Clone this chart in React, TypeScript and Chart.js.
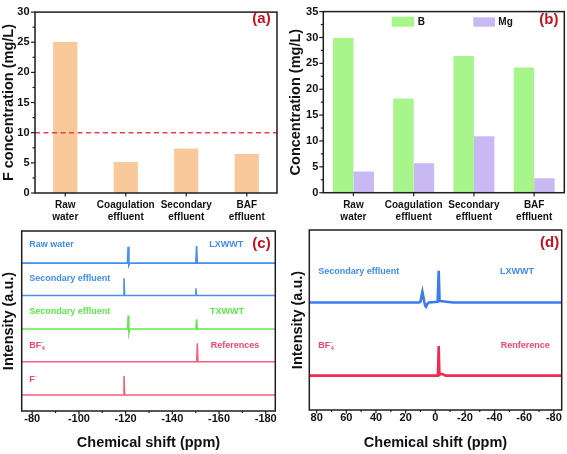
import React, { useEffect, useRef } from 'react';
import { Chart, registerables } from 'chart.js';
Chart.register(...registerables);

const FONT = "'Liberation Sans', Arial, Helvetica, sans-serif";
const DARKRED = '#c0141e';
const BLUE = '#3f8cf0';
const GREEN = '#5fe64c';
const PINK = '#f0466e';

// ---------- (a) ----------
const categories = [['Raw', 'water'], ['Coagulation', 'effluent'], ['Secondary', 'effluent'], ['BAF', 'effluent']];
const fConcentration = [25.05, 5.13, 7.38, 6.47];
const fLimit = 10;
const aYMajor = [0, 5, 10, 15, 20, 25, 30];
const aYMinor = [2.5, 7.5, 12.5, 17.5, 22.5, 27.5];

// ---------- (b) ----------
const boronValues = [29.9, 18.2, 26.4, 24.2];
const magnesiumValues = [4.1, 5.7, 10.9, 2.8];
const bYMajor = [0, 5, 10, 15, 20, 25, 30, 35];
const bYMinor = [2.5, 7.5, 12.5, 17.5, 22.5, 27.5, 32.5];

// ---------- (c) 19F NMR, ppm vs intensity ----------
const cXMajor = [-80, -100, -120, -140, -160, -180];
const cXMinor = [-90, -110, -130, -150, -170];
const cRawWater = [[-75.5, 0], [-120.8, 0], [-121.1, 9.2], [-121.4, -1.0], [-121.7, 0], [-150.1, 0], [-150.4, 9.6], [-150.7, 0], [-184.1, 0]];
const cSecondaryLX = [[-75.5, 0], [-119.0, 0], [-119.3, 9.7], [-119.6, 0], [-149.8, 0], [-150.1, 4.1], [-150.4, 0], [-184.1, 0]];
const cSecondaryTX = [[-75.5, 0], [-120.8, 0], [-121.1, 7.4], [-121.4, -2.4], [-121.8, 0], [-150.1, 0], [-150.4, 5.4], [-150.7, 0], [-184.1, 0]];
const cBF4 = [[-75.5, 0], [-150.4, 0], [-150.7, 10.2], [-151.0, 0], [-184.1, 0]];
const cFluoride = [[-75.5, 0], [-119.0, 0], [-119.3, 10.6], [-119.6, 0], [-184.1, 0]];
const cOffsets = [82.1, 64.1, 45.6, 27.4, 8.9];

// ---------- (d) 11B NMR ----------
const dXMajor = [80, 60, 40, 20, 0, -20, -40, -60, -80];
const dXMinor = [70, 50, 30, 10, -10, -30, -50, -70];
const dSecondary = [[85, 0], [11, 0], [10, 0.5], [9.3, 3.5], [8.7, 6.0], [8.1, 3.5], [7.4, 0.3], [6.8, -1.8], [6.2, -2.3], [5.4, -0.8], [4.4, 0], [-1.6, 0.4], [-2.3, 17.6], [-2.9, 0.9], [-6, 0.6], [-12, 0], [-85.3, 0]];
const dBF4 = [[85, 0], [-1.8, 0], [-2.3, 16.5], [-2.8, 0.5], [-4.5, 1.0], [-7, 0], [-85.3, 0]];
const dOffsets = [59.7, 19.1];

type TextItem = { t: string; x: number; y: number; c: string; s?: number; sup?: string; sub?: string };
type DecoCfg = {
  yMajor?: number[]; yMinor?: number[];
  xMajor?: number[]; xMinor?: number[];
  catTicks?: boolean;
  hLine?: number;
  texts?: TextItem[];
  boxes?: { x: number; y: number; w: number; h: number; c: string }[];
};

function deco(cfg: DecoCfg) {
  return {
    id: 'deco',
    afterDraw(chart: any) {
      const { ctx, chartArea: a, scales } = chart;
      const xs = scales.x, ys = scales.y;
      ctx.save();
      if (cfg.hLine !== undefined) {
        const py = ys.getPixelForValue(cfg.hLine);
        ctx.strokeStyle = '#f03c4c';
        ctx.lineWidth = 1.5;
        ctx.setLineDash([5, 3.5]);
        ctx.beginPath(); ctx.moveTo(a.left, py); ctx.lineTo(a.right, py); ctx.stroke();
        ctx.setLineDash([]);
      }
      ctx.strokeStyle = '#1e1e1e';
      ctx.lineWidth = 1.5;
      ctx.strokeRect(a.left, a.top, a.right - a.left, a.bottom - a.top);
      ctx.lineWidth = 1.2;
      const tick = (px: number, py: number, dx: number, dy: number) => {
        ctx.beginPath(); ctx.moveTo(px, py); ctx.lineTo(px + dx, py + dy); ctx.stroke();
      };
      (cfg.yMajor || []).forEach(v => tick(a.left, ys.getPixelForValue(v), -4, 0));
      (cfg.yMinor || []).forEach(v => tick(a.left, ys.getPixelForValue(v), -2.5, 0));
      (cfg.xMajor || []).forEach(v => tick(xs.getPixelForValue(v), a.bottom, 0, 3.5));
      (cfg.xMinor || []).forEach(v => tick(xs.getPixelForValue(v), a.bottom, 0, 2));
      if (cfg.catTicks) {
        xs.ticks.forEach((_: any, i: number) => tick(xs.getPixelForTick(i), a.bottom, 0, 3.5));
      }
      (cfg.boxes || []).forEach(b => { ctx.fillStyle = b.c; ctx.fillRect(b.x, b.y, b.w, b.h); });
      ctx.textBaseline = 'middle';
      ctx.textAlign = 'left';
      (cfg.texts || []).forEach(ti => {
        const s = ti.s || 9;
        ctx.fillStyle = ti.c;
        ctx.font = `bold ${s}px ${FONT}`;
        ctx.fillText(ti.t, ti.x, ti.y);
        const w = ctx.measureText(ti.t).width;
        ctx.font = `bold ${s * 0.62}px ${FONT}`;
        if (ti.sup) ctx.fillText(ti.sup, ti.x + w + 0.5, ti.y - 3.5);
        if (ti.sub) ctx.fillText(ti.sub, ti.x + w + 0.5, ti.y + 3);
      });
      ctx.restore();
    },
  };
}

const tickFont = { family: FONT, size: 11, weight: 'bold' as const };
const catFont = { family: FONT, size: 10, weight: 'bold' as const };
const titleFont = { family: FONT, size: 14.5, weight: 'bold' as const };

function barConfigA(): any {
  return {
    type: 'bar',
    data: {
      labels: categories,
      datasets: [{ data: fConcentration, backgroundColor: '#f9c89b', barPercentage: 0.4, categoryPercentage: 1 }],
    },
    options: {
      responsive: false, animation: false, devicePixelRatio: 1,
      layout: { padding: { left: 0, top: 6, right: 8, bottom: 0 } },
      plugins: { legend: { display: false }, tooltip: { enabled: false } },
      scales: {
        x: {
          grid: { display: false, drawTicks: false }, border: { display: false },
          ticks: { font: catFont, color: '#111', padding: 6.2, maxRotation: 0, autoSkip: false },
          afterFit: (s: any) => { s.height = 35; },
        },
        y: {
          min: 0, max: 30,
          grid: { display: false, drawTicks: false }, border: { display: false },
          ticks: { font: tickFont, color: '#111', padding: 5.5, stepSize: 5 },
          title: { display: true, text: 'F concentration (mg/L)', font: titleFont, color: '#111', padding: { top: 0, bottom: 0 } },
          afterFit: (s: any) => { s.width = 35; },
        },
      },
    },
    plugins: [deco({
      yMajor: aYMajor, yMinor: aYMinor, catTicks: true, hLine: fLimit,
      texts: [{ t: '(a)', x: 252.3, y: 19, c: DARKRED, s: 15 }],
    })],
  };
}

function barConfigB(): any {
  return {
    type: 'bar',
    data: {
      labels: categories,
      datasets: [
        { label: 'B', data: boronValues, backgroundColor: '#a8f58c', barPercentage: 1, categoryPercentage: 0.68 },
        { label: 'Mg', data: magnesiumValues, backgroundColor: '#c8b9f5', barPercentage: 1, categoryPercentage: 0.68 },
      ],
    },
    options: {
      responsive: false, animation: false, devicePixelRatio: 1,
      layout: { padding: { left: 0, top: 6, right: 2.7, bottom: 0 } },
      plugins: { legend: { display: false }, tooltip: { enabled: false } },
      scales: {
        x: {
          grid: { display: false, drawTicks: false }, border: { display: false },
          ticks: { font: catFont, color: '#111', padding: 6.3, maxRotation: 0, autoSkip: false },
          afterFit: (s: any) => { s.height = 35.3; },
        },
        y: {
          min: 0, max: 35,
          grid: { display: false, drawTicks: false }, border: { display: false },
          ticks: { font: tickFont, color: '#111', padding: 5, stepSize: 5 },
          title: { display: true, text: 'Concentration (mg/L)', font: titleFont, color: '#111', padding: { top: 2.6, bottom: 0 } },
          afterFit: (s: any) => { s.width = 38.3; },
        },
      },
    },
    plugins: [deco({
      yMajor: bYMajor, yMinor: bYMinor, catTicks: true,
      boxes: [
        { x: 106.7, y: 16.7, w: 22.3, h: 10, c: '#a8f58c' },
        { x: 188.3, y: 17.3, w: 21.7, h: 9.4, c: '#c8b9f5' },
      ],
      texts: [
        { t: 'B', x: 132.7, y: 21.8, c: '#111', s: 10 },
        { t: 'Mg', x: 213.3, y: 22, c: '#111', s: 10 },
        { t: '(b)', x: 254.3, y: 20, c: DARKRED, s: 15 },
      ],
    })],
  };
}

function lineDataset(trace: number[][], offset: number, color: string, width: number) {
  return {
    data: trace.map(([p, v]) => ({ x: p, y: offset + v })),
    borderColor: color, borderWidth: width, pointRadius: 0, tension: 0, fill: false,
  };
}

function specConfig(opts: {
  datasets: any[]; xMin: number; xMax: number; major: number[]; minor: number[];
  padRight: number; padTop: number; yWidth: number; xHeight: number; yTitlePad: number; texts: TextItem[];
}): any {
  return {
    type: 'line',
    data: { datasets: opts.datasets },
    options: {
      responsive: false, animation: false, devicePixelRatio: 1,
      layout: { padding: { left: 0, top: opts.padTop, right: opts.padRight, bottom: 0 } },
      plugins: { legend: { display: false }, tooltip: { enabled: false } },
      scales: {
        x: {
          type: 'linear', min: opts.xMin, max: opts.xMax, reverse: true,
          grid: { display: false, drawTicks: false }, border: { display: false },
          ticks: { font: tickFont, color: '#111', padding: 1, maxRotation: 0, autoSkip: false, callback: (v: any) => String(v) },
          afterBuildTicks: (s: any) => { s.ticks = opts.major.map(v => ({ value: v })); },
          title: { display: true, text: 'Chemical shift (ppm)', font: titleFont, color: '#111', padding: { top: 0, bottom: 2 } },
          afterFit: (s: any) => { s.height = opts.xHeight; },
        },
        y: {
          min: 0, max: 100,
          grid: { display: false, drawTicks: false }, border: { display: false },
          ticks: { display: false },
          title: { display: true, text: 'Intensity (a.u.)', font: titleFont, color: '#111', padding: { top: opts.yTitlePad, bottom: 0 } },
          afterFit: (s: any) => { s.width = opts.yWidth; },
        },
      },
    },
    plugins: [deco({ xMajor: opts.major, xMinor: opts.minor, texts: opts.texts })],
  };
}

function configC(): any {
  return specConfig({
    datasets: [
      lineDataset(cRawWater, cOffsets[0], '#4690ee', 1.7),
      lineDataset(cSecondaryLX, cOffsets[1], '#4690ee', 1.5),
      lineDataset(cSecondaryTX, cOffsets[2], '#62e84e', 1.5),
      lineDataset(cBF4, cOffsets[3], '#f2607e', 1.5),
      lineDataset(cFluoride, cOffsets[4], '#f2607e', 1.5),
    ],
    xMin: -184.1, xMax: -75.5, major: cXMajor, minor: cXMinor,
    padRight: 9.7, padTop: 3, yWidth: 21.7, xHeight: 43, yTitlePad: 0.5,
    texts: [
      { t: 'Raw water', x: 29.3, y: 16.3, c: BLUE },
      { t: 'LXWWT', x: 209.3, y: 16.3, c: BLUE },
      { t: '(c)', x: 252.3, y: 16.3, c: DARKRED, s: 15 },
      { t: 'Secondary effluent', x: 29.3, y: 50.3, c: BLUE },
      { t: 'Secondary effluent', x: 29.3, y: 83.7, c: GREEN },
      { t: 'TXWWT', x: 210, y: 83.7, c: GREEN },
      { t: 'BF', x: 29.3, y: 117.7, c: PINK, sup: '-', sub: '4' },
      { t: 'References', x: 210.7, y: 117.7, c: PINK },
      { t: 'F', x: 29.3, y: 152, c: PINK, sup: '-' },
    ],
  });
}

function configD(): any {
  return specConfig({
    datasets: [
      lineDataset(dSecondary, dOffsets[0], '#3a7ceb', 2.6),
      lineDataset(dBF4, dOffsets[1], '#f02a52', 2.6),
    ],
    xMin: -85.3, xMax: 85, major: dXMajor, minor: dXMinor,
    padRight: 5.3, padTop: 2, yWidth: 24.3, xHeight: 44, yTitlePad: 4.6,
    texts: [
      { t: 'Secondary effluent', x: 33.3, y: 43.7, c: BLUE },
      { t: 'LXWWT', x: 215, y: 43.7, c: BLUE },
      { t: '(d)', x: 255, y: 15.3, c: DARKRED, s: 15 },
      { t: 'BF', x: 33.3, y: 117.7, c: PINK, sup: '-', sub: '4' },
      { t: 'Renference', x: 215.7, y: 117.7, c: PINK },
    ],
  });
}

function Panel(props: { left: number; top: number; width: number; height: number; make: () => any }) {
  const ref = useRef<HTMLCanvasElement>(null);
  useEffect(() => {
    const chart = new Chart(ref.current as HTMLCanvasElement, props.make());
    return () => chart.destroy();
  }, []);
  const { left, top, width, height } = props;
  return (
    <div style={{ position: 'absolute', left, top, width, height }}>
      <canvas ref={ref} width={width} height={height} style={{ width, height, display: 'block' }} />
    </div>
  );
}

export default function App() {
  return (
    <div style={{ position: 'fixed', left: 0, top: 0, width: 567, height: 454, background: '#fff', overflow: 'hidden' }}>
      <Panel left={0} top={0} width={285} height={228} make={barConfigA} />
      <Panel left={285} top={0} width={282} height={228} make={barConfigB} />
      <Panel left={0} top={228} width={285} height={226} make={configC} />
      <Panel left={285} top={228} width={282} height={226} make={configD} />
    </div>
  );
}
